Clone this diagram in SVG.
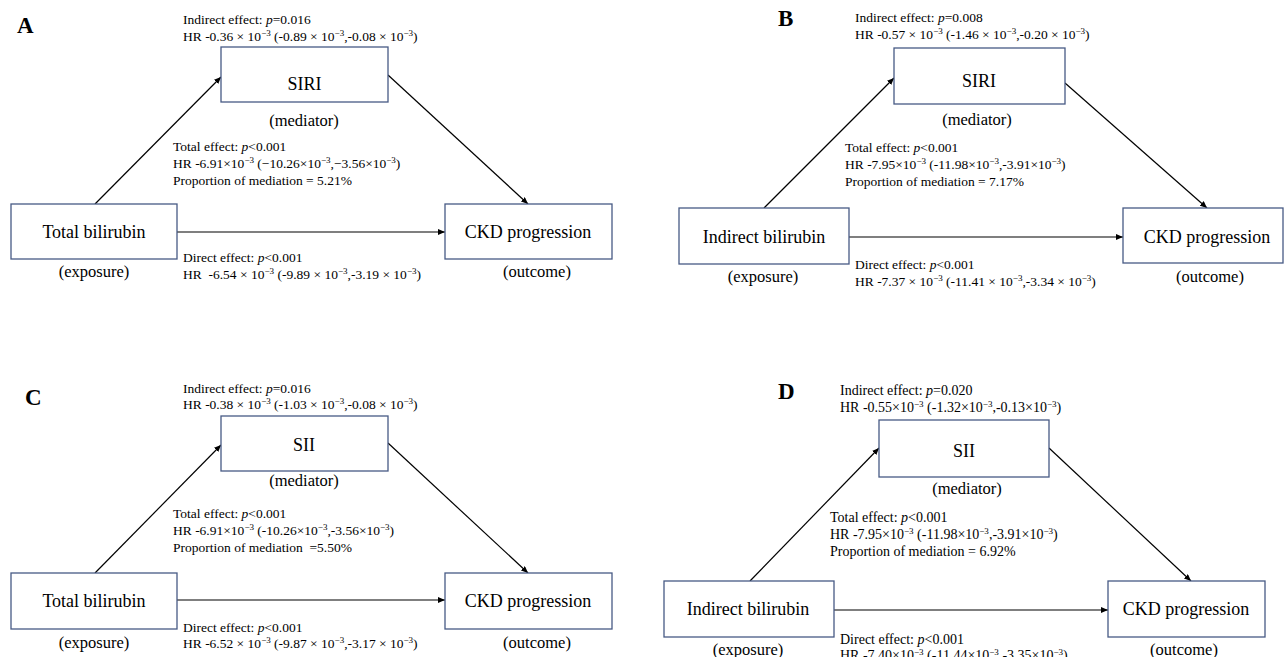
<svg xmlns="http://www.w3.org/2000/svg" width="1287" height="657" viewBox="0 0 1287 657">
<style>
.t{font-family:"Liberation Serif","Times New Roman",serif;font-size:13.5px;fill:#000}
.t14{font-size:14px}
.sp{font-size:9px}
.lbl{font-family:"Liberation Serif","Times New Roman",serif;font-size:18px;fill:#000;text-anchor:middle}
.sub{font-family:"Liberation Serif","Times New Roman",serif;font-size:16.5px;fill:#000;text-anchor:middle}
.pl{font-family:"Liberation Serif","Times New Roman",serif;font-size:23px;font-weight:bold;fill:#000}
.box{fill:#fff;stroke:#475A85;stroke-width:1.3}
.ar{stroke:#000;stroke-width:1.2;fill:none;marker-end:url(#ah)}
</style>
<defs>
<marker id="ah" markerUnits="userSpaceOnUse" markerWidth="8" markerHeight="6" refX="7" refY="3" orient="auto">
<path d="M0,0 L7,3 L0,6 z" fill="#000"/>
</marker>
</defs>
<rect width="1287" height="657" fill="#fff"/>

<g id="connectors">
<line class="ar" x1="95" y1="204" x2="221" y2="77"/>
<line class="ar" x1="388" y1="75" x2="528" y2="204"/>
<line class="ar" x1="177" y1="232" x2="445" y2="232"/>
<line class="ar" x1="764" y1="208" x2="894" y2="78"/>
<line class="ar" x1="1065" y1="83" x2="1207" y2="208"/>
<line class="ar" x1="849" y1="237" x2="1123" y2="237"/>
<line class="ar" x1="95" y1="573" x2="221" y2="445"/>
<line class="ar" x1="388" y1="443" x2="528" y2="573"/>
<line class="ar" x1="177" y1="600" x2="445" y2="600"/>
<line class="ar" x1="750" y1="581" x2="879" y2="448"/>
<line class="ar" x1="1049" y1="448" x2="1191" y2="581"/>
<line class="ar" x1="834" y1="610" x2="1108" y2="610"/>
</g>

<g id="panelA">
<text class="pl" x="17" y="33">A</text>
<text class="t" x="183" y="24">Indirect effect: <tspan font-style="italic">p</tspan>=0.016</text>
<text class="t" x="183" y="41">HR -0.36 × 10<tspan class="sp" dy="-5">−3</tspan><tspan dy="5"> (-0.89 × 10</tspan><tspan class="sp" dy="-5">−3</tspan><tspan dy="5">,-0.08 × 10</tspan><tspan class="sp" dy="-5">−3</tspan><tspan dy="5">)</tspan></text>
<text class="t" x="173" y="151">Total effect: <tspan font-style="italic">p</tspan>&lt;0.001</text>
<text class="t" x="173" y="168">HR -6.91×10<tspan class="sp" dy="-5">−3</tspan><tspan dy="5"> (−10.26×10</tspan><tspan class="sp" dy="-5">−3</tspan><tspan dy="5">,−3.56×10</tspan><tspan class="sp" dy="-5">−3</tspan><tspan dy="5">)</tspan></text>
<text class="t" x="173" y="185">Proportion of mediation = 5.21%</text>
<text class="t" x="183" y="262">Direct effect: <tspan font-style="italic">p</tspan>&lt;0.001</text>
<text class="t" x="183" y="279" xml:space="preserve">HR  -6.54 × 10<tspan class="sp" dy="-5">−3</tspan><tspan dy="5"> (-9.89 × 10</tspan><tspan class="sp" dy="-5">−3</tspan><tspan dy="5">,-3.19 × 10</tspan><tspan class="sp" dy="-5">−3</tspan><tspan dy="5">)</tspan></text>
</g>
<g id="A-mediator">
<rect class="box" x="221" y="47" width="167" height="55"/>
<text class="lbl" x="304.5" y="90">SIRI</text>
<text class="sub" x="304" y="126">(mediator)</text>
</g>
<g id="A-exposure">
<rect class="box" x="11" y="204" width="166" height="55"/>
<text class="lbl" x="94" y="238">Total bilirubin</text>
<text class="sub" x="94" y="277">(exposure)</text>
</g>
<g id="A-outcome">
<rect class="box" x="445" y="204" width="167" height="55"/>
<text class="lbl" x="528" y="238">CKD progression</text>
<text class="sub" x="537" y="277">(outcome)</text>
</g>

<g id="panelB">
<text class="pl" x="778" y="26">B</text>
<text class="t" x="855" y="22">Indirect effect: <tspan font-style="italic">p</tspan>=0.008</text>
<text class="t" x="855" y="39">HR -0.57 × 10<tspan class="sp" dy="-5">−3</tspan><tspan dy="5"> (-1.46 × 10</tspan><tspan class="sp" dy="-5">−3</tspan><tspan dy="5">,-0.20 × 10</tspan><tspan class="sp" dy="-5">−3</tspan><tspan dy="5">)</tspan></text>
<text class="t" x="845" y="152">Total effect: <tspan font-style="italic">p</tspan>&lt;0.001</text>
<text class="t" x="845" y="169">HR -7.95×10<tspan class="sp" dy="-5">−3</tspan><tspan dy="5"> (-11.98×10</tspan><tspan class="sp" dy="-5">−3</tspan><tspan dy="5">,-3.91×10</tspan><tspan class="sp" dy="-5">−3</tspan><tspan dy="5">)</tspan></text>
<text class="t" x="845" y="186">Proportion of mediation = 7.17%</text>
<text class="t" x="855" y="269">Direct effect: <tspan font-style="italic">p</tspan>&lt;0.001</text>
<text class="t" x="855" y="286">HR -7.37 × 10<tspan class="sp" dy="-5">−3</tspan><tspan dy="5"> (-11.41 × 10</tspan><tspan class="sp" dy="-5">−3</tspan><tspan dy="5">,-3.34 × 10</tspan><tspan class="sp" dy="-5">−3</tspan><tspan dy="5">)</tspan></text>
</g>
<g id="B-mediator">
<rect class="box" x="894" y="48" width="171" height="56"/>
<text class="lbl" x="979" y="87">SIRI</text>
<text class="sub" x="977" y="125">(mediator)</text>
</g>
<g id="B-exposure">
<rect class="box" x="679" y="208" width="170" height="56"/>
<text class="lbl" x="764" y="243">Indirect bilirubin</text>
<text class="sub" x="763" y="282">(exposure)</text>
</g>
<g id="B-outcome">
<rect class="box" x="1123" y="208" width="160" height="55"/>
<text class="lbl" x="1207" y="243">CKD progression</text>
<text class="sub" x="1210" y="282">(outcome)</text>
</g>

<g id="panelC">
<text class="pl" x="25" y="405">C</text>
<text class="t" x="183" y="393">Indirect effect: <tspan font-style="italic">p</tspan>=0.016</text>
<text class="t" x="183" y="409">HR -0.38 × 10<tspan class="sp" dy="-5">−3</tspan><tspan dy="5"> (-1.03 × 10</tspan><tspan class="sp" dy="-5">−3</tspan><tspan dy="5">,-0.08 × 10</tspan><tspan class="sp" dy="-5">−3</tspan><tspan dy="5">)</tspan></text>
<text class="t" x="173" y="518">Total effect: <tspan font-style="italic">p</tspan>&lt;0.001</text>
<text class="t" x="173" y="535">HR -6.91×10<tspan class="sp" dy="-5">−3</tspan><tspan dy="5"> (-10.26×10</tspan><tspan class="sp" dy="-5">−3</tspan><tspan dy="5">,-3.56×10</tspan><tspan class="sp" dy="-5">−3</tspan><tspan dy="5">)</tspan></text>
<text class="t" x="173" y="552" xml:space="preserve">Proportion of mediation  =5.50%</text>
<text class="t" x="183" y="632">Direct effect: <tspan font-style="italic">p</tspan>&lt;0.001</text>
<text class="t" x="183" y="648">HR -6.52 × 10<tspan class="sp" dy="-5">−3</tspan><tspan dy="5"> (-9.87 × 10</tspan><tspan class="sp" dy="-5">−3</tspan><tspan dy="5">,-3.17 × 10</tspan><tspan class="sp" dy="-5">−3</tspan><tspan dy="5">)</tspan></text>
</g>
<g id="C-mediator">
<rect class="box" x="221" y="416" width="167" height="55"/>
<text class="lbl" x="304" y="451">SII</text>
<text class="sub" x="304" y="486">(mediator)</text>
</g>
<g id="C-exposure">
<rect class="box" x="11" y="573" width="166" height="56"/>
<text class="lbl" x="94" y="607">Total bilirubin</text>
<text class="sub" x="94" y="648">(exposure)</text>
</g>
<g id="C-outcome">
<rect class="box" x="445" y="573" width="167" height="56"/>
<text class="lbl" x="528" y="607">CKD progression</text>
<text class="sub" x="537" y="648">(outcome)</text>
</g>

<g id="panelD">
<text class="pl" x="778" y="399">D</text>
<text class="t t14" x="840" y="395">Indirect effect: <tspan font-style="italic">p</tspan>=0.020</text>
<text class="t t14" x="840" y="412">HR -0.55×10<tspan class="sp" dy="-5">−3</tspan><tspan dy="5"> (-1.32×10</tspan><tspan class="sp" dy="-5">−3</tspan><tspan dy="5">,-0.13×10</tspan><tspan class="sp" dy="-5">−3</tspan><tspan dy="5">)</tspan></text>
<text class="t t14" x="830" y="522">Total effect: <tspan font-style="italic">p</tspan>&lt;0.001</text>
<text class="t t14" x="830" y="539">HR -7.95×10<tspan class="sp" dy="-5">−3</tspan><tspan dy="5"> (-11.98×10</tspan><tspan class="sp" dy="-5">−3</tspan><tspan dy="5">,-3.91×10</tspan><tspan class="sp" dy="-5">−3</tspan><tspan dy="5">)</tspan></text>
<text class="t t14" x="830" y="556">Proportion of mediation = 6.92%</text>
<text class="t t14" x="840" y="644">Direct effect: <tspan font-style="italic">p</tspan>&lt;0.001</text>
<text class="t t14" x="840" y="660">HR -7.40×10<tspan class="sp" dy="-5">−3</tspan><tspan dy="5"> (-11.44×10</tspan><tspan class="sp" dy="-5">−3</tspan><tspan dy="5">,-3.35×10</tspan><tspan class="sp" dy="-5">−3</tspan><tspan dy="5">)</tspan></text>
</g>
<g id="D-mediator">
<rect class="box" x="879" y="420" width="170" height="57"/>
<text class="lbl" x="964" y="457">SII</text>
<text class="sub" x="967" y="494">(mediator)</text>
</g>
<g id="D-exposure">
<rect class="box" x="664" y="581" width="170" height="56"/>
<text class="lbl" x="748" y="615">Indirect bilirubin</text>
<text class="sub" x="748" y="655">(exposure)</text>
</g>
<g id="D-outcome">
<rect class="box" x="1108" y="581" width="157" height="56"/>
<text class="lbl" x="1186" y="615">CKD progression</text>
<text class="sub" x="1184" y="655">(outcome)</text>
</g>
</svg>
